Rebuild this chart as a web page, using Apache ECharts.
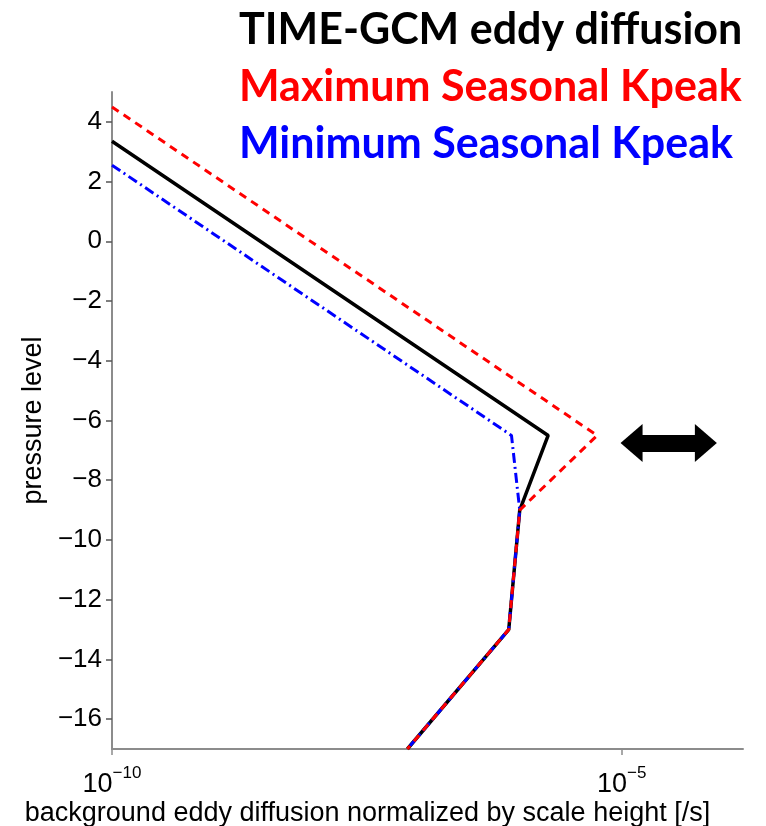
<!DOCTYPE html>
<html><head><meta charset="utf-8">
<script src="https://cdn.jsdelivr.net/npm/echarts@6/dist/echarts.min.js"></script>
<style>html,body{margin:0;padding:0;background:#fff}#c{width:766px;height:826px}</style>
</head><body><div id="c"></div>
<script>
// pressure levels (y) for each curve
const blackLevels = [3.35, -6.5, -9, -13, -17];
const blackValues = [1e-10, 1.9e-6, 1.0e-6, 7.8e-7, 7.9e-8];
const redLevels = [4.5, -6.5, -9, -13, -17];
const redValues = [1e-10, 5.75e-6, 1.0e-6, 7.8e-7, 7.9e-8];
const blueLevels = [2.55, -6.5, -9, -13, -17];
const blueValues = [1e-10, 8.3e-7, 1.0e-6, 7.8e-7, 7.9e-8];
const yTicks = [-16, -14, -12, -10, -8, -6, -4, -2, 0, 2, 4];
const xTicks = [1e-10, 1e-5];
const arrowX = [1.25e-5, 6.7e-5];
const arrowY = -6.75;
const names = ['TIME-GCM eddy diffusion', 'Maximum Seasonal Kpeak', 'Minimum Seasonal Kpeak'];

function pairs(xs, ys) { return xs.map((x, i) => [x, ys[i]]); }

const chart = echarts.init(document.getElementById('c'));
const axisCol = '#8c8c8c';
chart.setOption({
  animation: false,
  backgroundColor: '#fff',
  grid: { left: 112, right: 23, top: 92, bottom: 77, containLabel: false, outerBoundsMode: 'none' },
  legend: {
    orient: 'vertical', left: 229, top: 4, itemWidth: 0, itemHeight: 0, icon: 'none',
    itemGap: 14, selectedMode: false,
    textStyle: { fontFamily: 'Lato', fontWeight: 'bold', fontSize: 43, lineHeight: 43 },
    data: [
      { name: names[0], textStyle: { color: '#000' } },
      { name: names[1], textStyle: { color: '#ff0000' } },
      { name: names[2], textStyle: { color: '#0000ff' } }
    ]
  },
  xAxis: {
    type: 'log', logBase: 10, min: 1e-10, max: 1.55e-4,
    name: 'background eddy diffusion normalized by scale height [/s]',
    nameLocation: 'middle', nameGap: 51, nameMoveOverlap: false,
    nameTextStyle: { fontFamily: 'Liberation Sans', fontSize: 27, color: '#000', padding: [0, 120, 0, 0] },
    axisLine: { show: true, onZero: false, lineStyle: { color: axisCol, width: 2 } },
    axisTick: { show: true, customValues: xTicks, length: 6, lineStyle: { color: axisCol, width: 1.5 } },
    axisLabel: {
      customValues: xTicks, margin: 16, color: '#000', fontFamily: 'Liberation Sans',
      formatter: v => '{b|10}{s|−' + Math.abs(Math.round(Math.log10(v))) + '}',
      rich: {
        b: { fontSize: 27, fontFamily: 'Liberation Sans', color: '#000', verticalAlign: 'bottom' },
        s: { fontSize: 17, fontFamily: 'Liberation Sans', color: '#000', verticalAlign: 'bottom', padding: [0, 0, 16, 0] }
      }
    },
    splitLine: { show: false }
  },
  yAxis: {
    type: 'value', min: -17, max: 5,
    name: 'pressure level', nameLocation: 'middle', nameGap: 63, nameRotate: 90,
    nameTextStyle: { fontFamily: 'Liberation Sans', fontSize: 27, color: '#000' },
    axisLine: { show: true, onZero: false, lineStyle: { color: axisCol, width: 2 } },
    axisTick: { show: true, customValues: yTicks, length: 6, lineStyle: { color: '#555', width: 1.5 } },
    axisLabel: { customValues: yTicks, margin: 10, color: '#000', fontFamily: 'Liberation Sans', fontSize: 26,
      formatter: v => (v < 0 ? '−' + Math.abs(v) : String(v)) },
    splitLine: { show: false }
  },
  series: [
    { name: names[0], type: 'line', data: pairs(blackValues, blackLevels), symbol: 'none', z: 2,
      lineStyle: { color: '#000', width: 3.5, type: 'solid' }, itemStyle: { color: '#000' },
      markLine: {
        silent: true, symbol: ['triangle', 'triangle'], symbolSize: [38, 22], label: { show: false },
        lineStyle: { color: '#000', width: 17, type: 'solid' }, itemStyle: { color: '#000' },
        data: [[{ coord: [arrowX[0], arrowY] }, { coord: [arrowX[1], arrowY] }]]
      } },
    { name: names[2], type: 'line', data: pairs(blueValues, blueLevels), symbol: 'none', z: 3,
      lineStyle: { color: '#0000ff', width: 3, type: [10, 4, 2, 4] }, itemStyle: { color: '#0000ff' } },
    { name: names[1], type: 'line', data: pairs(redValues, redLevels), symbol: 'none', z: 4,
      lineStyle: { color: '#ff0000', width: 3, type: [8, 6] }, itemStyle: { color: '#ff0000' } }
  ]
});
</script></body></html>
